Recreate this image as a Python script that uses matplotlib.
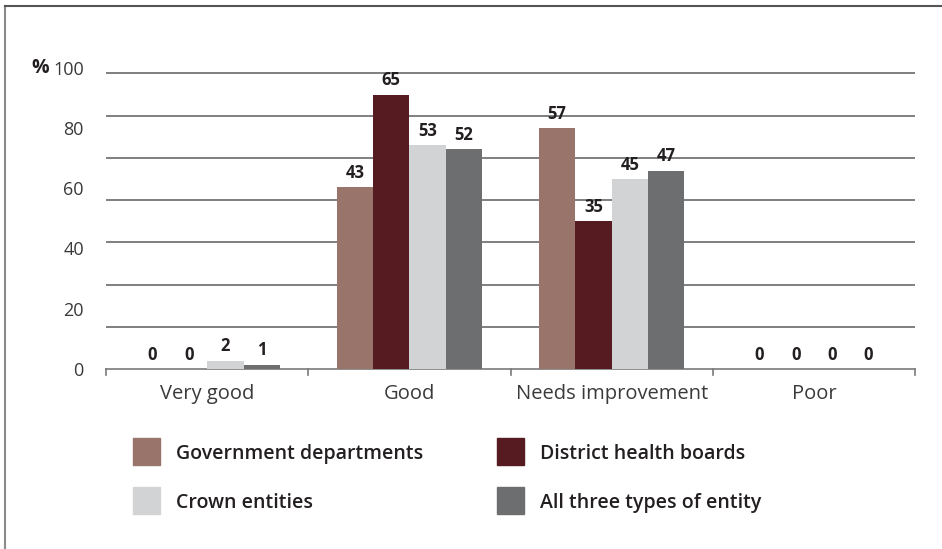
import numpy as np
import matplotlib
matplotlib.use('Agg')
import matplotlib.pyplot as plt
from matplotlib.patches import Rectangle
from matplotlib.lines import Line2D

plt.rcParams['font.family'] = ['Open Sans', 'DejaVu Sans']

categories = ['Very good', 'Good', 'Needs improvement', 'Poor']
series_names = ['Government departments', 'District health boards',
                'Crown entities', 'All three types of entity']
gov_depts = [0, 43, 57, 0]
dhbs = [0, 65, 35, 0]
crown = [2, 53, 45, 0]
all_three = [1, 52, 47, 0]
colors = ['#98746a', '#561b20', '#d2d3d5', '#6d6e70']
ytick_labels = ['0', '20', '40', '60', '80', '100']

series = [gov_depts, dhbs, crown, all_three]

fig = plt.figure(figsize=(9.42, 5.49), dpi=100)
ax = fig.add_axes([106 / 942, 180 / 549, 809 / 942, 304 / 549])

x = np.arange(len(categories))
w = 0.18
for i, vals in enumerate(series):
    pos = x + (i - 1.5) * w
    ax.bar(pos, vals, width=w, color=colors[i], zorder=3)
    for p, v in zip(pos, vals):
        ax.text(p, v + 1.3, str(v), ha='center', va='bottom', fontsize=12,
                fontweight='bold', color='#231f20', zorder=4)

ax.set_xlim(-0.5, 3.5)
ax.set_ylim(0, 72)

# gridlines
for g in range(10, 80, 10):
    ax.axhline(g, color='#6a6a6a', lw=1.2, zorder=1)

# odd tick label placement from the original
ax.set_yticks(np.linspace(0, 71.4, 6))
ax.set_yticklabels(ytick_labels, fontsize=13, color='#3a3a3a')
ax.tick_params(axis='y', length=0, pad=16)
fig.text(40 / 942, 1 - 68 / 549, '%', fontsize=14, fontweight='bold',
         color='#231f20', ha='center', va='center')

ax.set_xticks(x)
ax.set_xticklabels(categories, fontsize=14.5, color='#3a3a3a')
ax.tick_params(axis='x', length=0, pad=11)
for b in np.arange(-0.5, 4, 1):
    ax.plot([b, b], [0, -1.4], color='#7a7a7a', lw=1.2, clip_on=False, zorder=2)

for s in ['top', 'right', 'left']:
    ax.spines[s].set_visible(False)
ax.spines['bottom'].set_color('#7a7a7a')
ax.spines['bottom'].set_linewidth(1.2)

# legend
leg_pos = [(133, 438), (497, 438), (133, 487), (497, 487)]
for (lx, ly), name, c in zip(leg_pos, series_names, colors):
    fig.patches.append(Rectangle((lx / 942, 1 - (ly + 27) / 549), 27 / 942, 27 / 549,
                                 transform=fig.transFigure, color=c))
    fig.text((lx + 43) / 942, 1 - (ly + 16) / 549, name, fontsize=14,
             fontweight='semibold', color='#231f20', va='center', ha='left')

# frame lines
fig.add_artist(Line2D([5 / 942, 5 / 942], [0, 1 - 6 / 549], color='#8a8a8a', lw=1.5))
fig.add_artist(Line2D([5 / 942, 1], [1 - 6 / 549, 1 - 6 / 549], color='#555555', lw=1.5))

fig.savefig('out.png', dpi=100)
